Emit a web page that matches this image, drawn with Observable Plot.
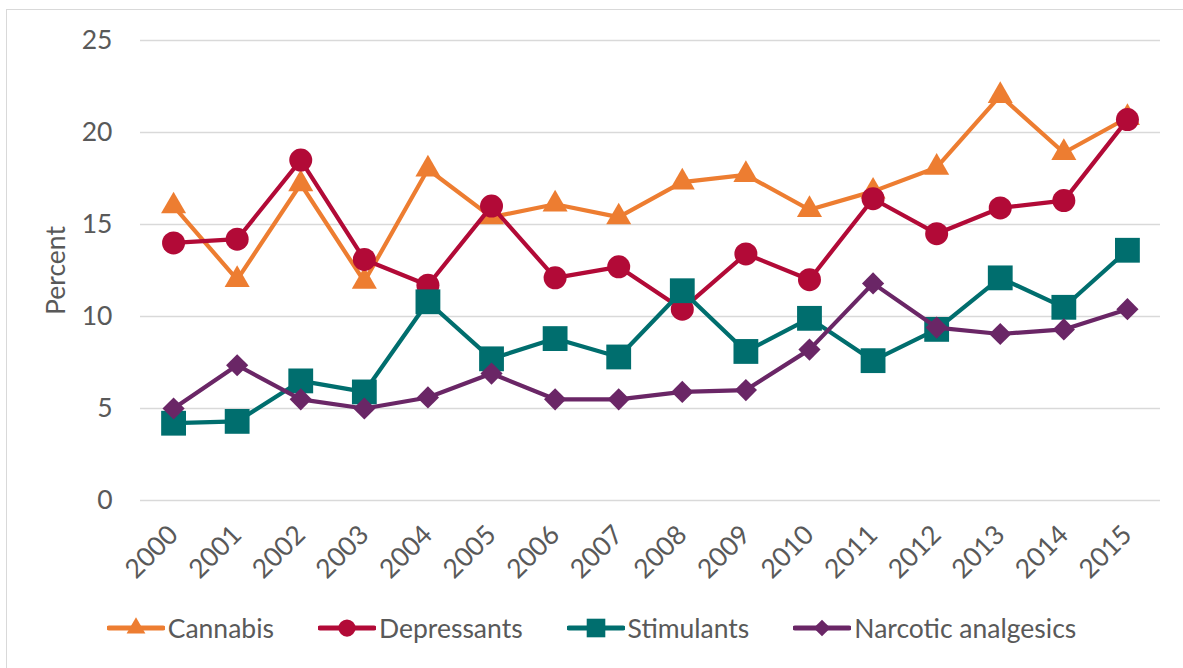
<!DOCTYPE html>
<html>
<head>
<meta charset="utf-8">
<script src="https://cdn.jsdelivr.net/npm/d3@7"></script>
<script src="https://cdn.jsdelivr.net/npm/@observablehq/plot@0.6"></script>
<style>
  html, body { margin: 0; padding: 0; background: #fff; overflow: hidden; }
  #wrap { position: relative; width: 1183px; height: 668px; font-family: Lato, "Open Sans", sans-serif; }
  #frame { position: absolute; left: 6px; top: 9px; width: 1200px; height: 700px; border: 1.5px solid #d9d9d9; box-sizing: border-box; }
  #chart { position: absolute; left: 0; top: 0; }
  #legend { position: absolute; left: 0; top: 610px; width: 1183px; height: 36px; display: flex; justify-content: center; align-items: center; gap: 44px; font-size: 26.5px; color: #595959; }
  .item { display: flex; align-items: center; }
  .item svg { margin-right: 3px; }
</style>
</head>
<body>
<div id="wrap">
  <div id="frame"></div>
  <div id="chart"></div>
  <div id="legend"></div>
</div>
<script>
const years = ["2000","2001","2002","2003","2004","2005","2006","2007","2008","2009","2010","2011","2012","2013","2014","2015"];
const cannabis    = [16.0, 12.0, 17.2, 11.9, 18.0, 15.4, 16.1, 15.4, 17.3, 17.7, 15.8, 16.8, 18.1, 22.0, 18.9, 20.8];
const depressants = [14.0, 14.2, 18.5, 13.1, 11.7, 16.0, 12.1, 12.7, 10.4, 13.4, 12.0, 16.4, 14.5, 15.9, 16.3, 20.7];
const stimulants  = [4.2, 4.3, 6.5, 5.9, 10.8, 7.7, 8.8, 7.8, 11.4, 8.1, 9.9, 7.6, 9.3, 12.1, 10.5, 13.6];
const narcotic    = [5.0, 7.35, 5.5, 5.0, 5.6, 6.9, 5.5, 5.5, 5.9, 6.0, 8.2, 11.8, 9.4, 9.05, 9.3, 10.4];
const seriesNames = ["Cannabis", "Depressants", "Stimulants", "Narcotic analgesics"];
const seriesColors = ["#ED7D31", "#B20A37", "#006E6E", "#6A2666"];
const seriesSymbols = ["triangle", "circle", "square", "diamond2"];
const seriesR = [9.3, 11.5, 14, 10];
const yTicks = [0, 5, 10, 15, 20, 25];

const seriesValues = [cannabis, depressants, stimulants, narcotic];
const series = seriesNames.map((name, i) => ({
  name, color: seriesColors[i], symbol: seriesSymbols[i], r: seriesR[i],
  data: years.map((y, j) => ({year: y, value: seriesValues[i][j]}))
}));

const marks = [
  Plot.gridY(yTicks, {stroke: "#d9d9d9", strokeOpacity: 1, strokeWidth: 1.4}),
  Plot.axisY(yTicks, {tickSize: 0, tickPadding: 28, fontSize: 26.5, fill: "#595959", label: "Percent", labelAnchor: "center", labelArrow: "none", labelOffset: 94}),
  Plot.axisX({tickSize: 0, tickRotate: -45, tickPadding: 30, fontSize: 26.5, fill: "#595959", label: null})
];
for (const s of series) {
  marks.push(Plot.line(s.data, {x: "year", y: "value", stroke: s.color, strokeWidth: 4.2}));
  marks.push(Plot.dot(s.data, {x: "year", y: "value", fill: s.color, symbol: s.symbol, r: s.r, stroke: "none"}));
}

const chart = Plot.plot({
  width: 1183,
  height: 600,
  marginLeft: 140,
  marginRight: 23,
  marginTop: 40,
  marginBottom: 100,
  style: {fontFamily: "Lato, 'Open Sans', sans-serif", background: "transparent", color: "#595959"},
  x: {type: "point", domain: years, padding: 0.52, round: false},
  y: {domain: [0, 25]},
  marks
});
document.getElementById("chart").appendChild(chart);

const legend = document.getElementById("legend");
series.forEach(s => {
  const item = document.createElement("div");
  item.className = "item";
  const sw = d3.create("svg").attr("width", 58).attr("height", 26);
  sw.append("line").attr("x1", 2).attr("x2", 56).attr("y1", 13).attr("y2", 13)
    .attr("stroke", s.color).attr("stroke-width", 5).attr("stroke-linecap", "round");
  const sym = {triangle: d3.symbolTriangle, circle: d3.symbolCircle, square: d3.symbolSquare, diamond2: d3.symbolDiamond2}[s.symbol];
  sw.append("path").attr("transform", "translate(29,13)")
    .attr("d", d3.symbol(sym, Math.PI * (s.r * 0.75) ** 2)()).attr("fill", s.color);
  item.appendChild(sw.node());
  const t = document.createElement("span");
  t.textContent = s.name;
  item.appendChild(t);
  legend.appendChild(item);
});
</script>
</body>
</html>
